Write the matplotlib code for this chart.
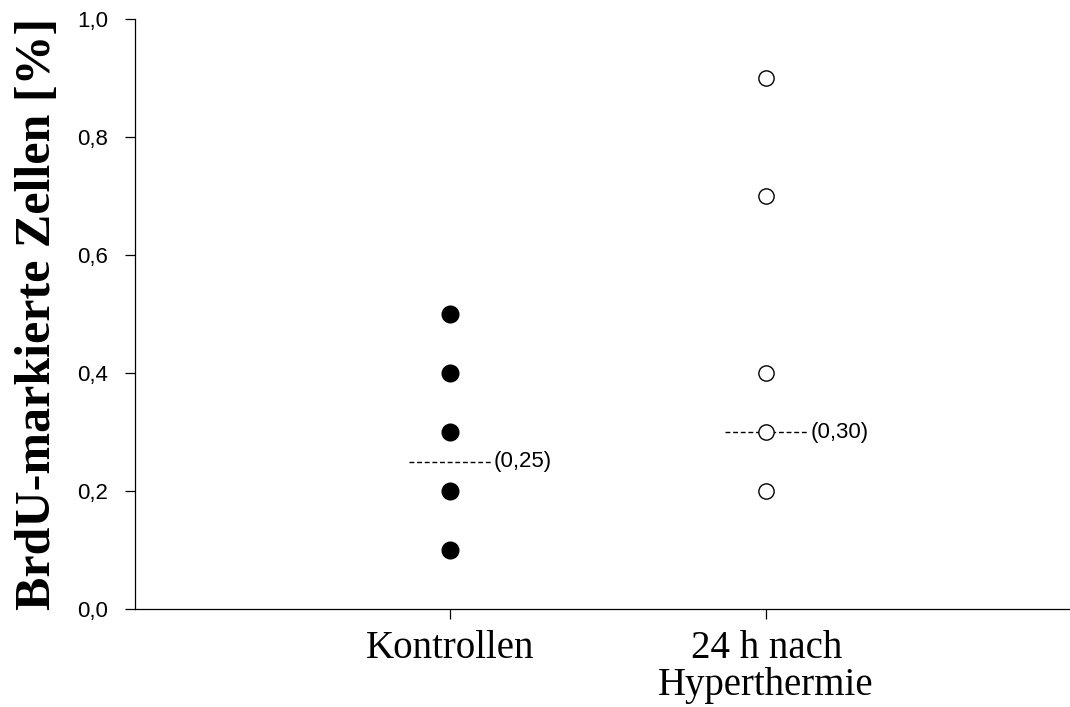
import matplotlib.pyplot as plt
import numpy as np

# groups and measured values (% BrdU-labelled cells)
groups = ["Kontrollen", "24 h nach\nHyperthermie"]
kontrollen = [0.1, 0.2, 0.3, 0.4, 0.5]
hyperthermie = [0.2, 0.3, 0.4, 0.7, 0.9]
# group means, drawn as dashed lines with their labels
means = [0.25, 0.30]
mean_labels = ["(0,25)", "(0,30)"]
yticks = [0.0, 0.2, 0.4, 0.6, 0.8, 1.0]
ytick_labels = ["0,0", "0,2", "0,4", "0,6", "0,8", "1,0"]

fig = plt.figure(figsize=(10.7, 7.07), dpi=100)
ax = fig.add_axes([0.126, 0.1386, 0.874, 0.8341])

pos = np.arange(1, len(groups) + 1)

ax.plot(np.full(len(kontrollen), pos[0]), kontrollen, "o", color="black",
        markersize=12, linestyle="none", zorder=3)
ax.plot(np.full(len(hyperthermie), pos[1]), hyperthermie, "o", markerfacecolor="white",
        markeredgecolor="black", markeredgewidth=1.0, markersize=11,
        linestyle="none", zorder=3)

# mean lines + value labels
half = 0.13
for p, m, lab in zip(pos, means, mean_labels):
    ax.plot([p - half, p + half], [m, m], color="black", linewidth=1.0,
            dashes=(3.5, 2), zorder=2)
    ax.text(p + half + 0.01, m, lab, fontsize=16, family="Liberation Sans",
            va="center", ha="left")

ax.set_xlim(0.005, 2.96)
ax.set_ylim(0, 1.0)
ax.set_xticks(pos)
ax.set_xticklabels(groups, fontsize=28, family="Liberation Serif")
for t in ax.get_xticklabels():
    t.set_linespacing(1.0)
ax.set_yticks(yticks)
ax.set_yticklabels(ytick_labels, fontsize=16, family="Liberation Sans")

ax.set_ylabel("BrdU-markierte Zellen [%]", fontsize=36, fontweight="bold",
              family="Liberation Serif", labelpad=12)

ax.spines["top"].set_visible(False)
ax.spines["right"].set_visible(False)
ax.spines["left"].set_linewidth(0.9)
ax.spines["bottom"].set_linewidth(0.9)
ax.tick_params(axis="y", direction="out", length=7, width=0.9, pad=12)
ax.tick_params(axis="x", direction="out", length=7, width=0.9, pad=8)

fig.savefig("out.png", dpi=100)
